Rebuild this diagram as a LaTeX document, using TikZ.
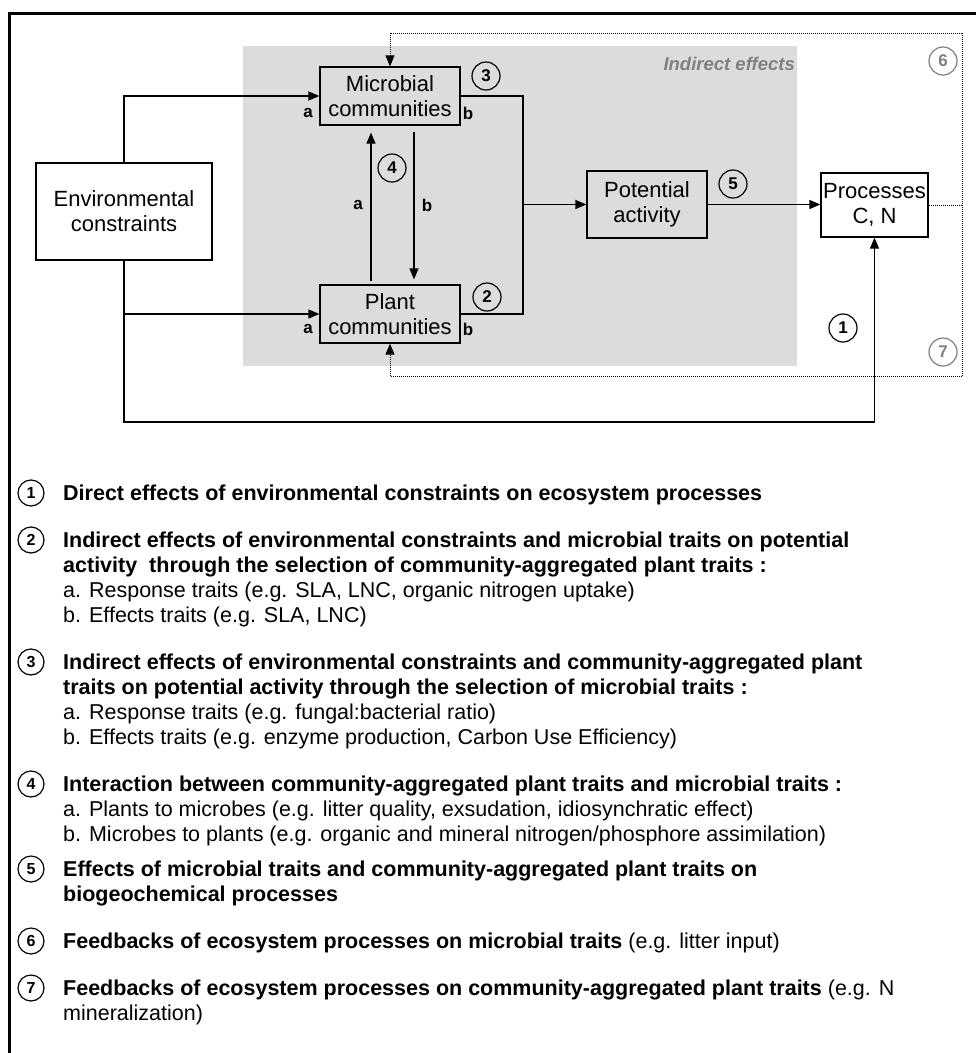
\documentclass[tikz,border=0pt]{standalone}
\usepackage{fontspec}
\setmainfont{Liberation Sans}
\usetikzlibrary{arrows.meta,calc}
\definecolor{bgshade}{HTML}{DCDCDC}
\definecolor{fbgray}{HTML}{808080}
\begin{document}
\begin{tikzpicture}[x=1pt,y=-1pt,
 box/.style={draw,line width=1.3pt,align=center,inner sep=0pt,font=\fontsize{22}{25}\selectfont},
 ln/.style={line width=1.3pt},
 arr/.style={line width=1.3pt,-{Triangle[length=11pt,width=9pt]}},
 dot/.style={line width=0.9pt,dash pattern=on 1pt off 1pt},
 dotarr/.style={dot,-{Triangle[length=11pt,width=9pt]}},
 num/.style={circle,draw,line width=1.2pt,inner sep=0pt,minimum size=28pt,font=\fontsize{17}{17}\selectfont\bfseries},
 gnum/.style={num,draw=fbgray,text=fbgray},
 lnum/.style={circle,draw,line width=1.2pt,inner sep=0pt,minimum size=26pt,font=\fontsize{16}{16}\selectfont\bfseries},
 lab/.style={font=\fontsize{17}{17}\selectfont\bfseries,inner sep=0pt},
 leg/.style={anchor=base west,inner sep=0pt,font=\fontsize{21.5}{25}\selectfont},
 legb/.style={leg,font=\fontsize{21.5}{25}\selectfont\bfseries},
]
\useasboundingbox (0,0) rectangle (976,1053);
\fill[white] (0,0) rectangle (976,1053);
\draw[line width=3pt] (976,13) -- (9,13) -- (9,1053);
\fill[bgshade] (243,46) rectangle (797,366);
\node[font=\fontsize{18.5}{18.5}\selectfont\bfseries\itshape,text=fbgray,anchor=east,inner sep=0pt] (ind) at (795,64) {Indirect effects};

% boxes
\node[box,fill=white,minimum width=176pt,minimum height=97pt] (env) at (124,211.5) {Environmental\\constraints};
\node[box,fill=bgshade,minimum width=140pt,minimum height=58pt] (mic) at (390,96) {Microbial\\communities};
\node[box,fill=bgshade,minimum width=140pt,minimum height=58pt] (pla) at (390,314) {Plant\\communities};
\node[box,fill=bgshade,minimum width=120pt,minimum height=67pt] (pot) at (647,204.5) {Potential\\activity};
\node[box,fill=white,minimum width=107pt,minimum height=64pt] (pro) at (874.5,205) {Processes\\C, N};

% coordinates
\coordinate (jn) at (523,204.5);
\coordinate (bot) at (124,422);
\coordinate (fbTR) at (962,33);
\coordinate (fbBR) at (962,376);

% connectors
\draw[arr] (env.north) |- (mic.west);
\draw[arr] (env.south) |- (pla.west);
\draw[arr] (env.south) -- (bot) -| (pro.south);
\draw[ln] (mic.east) -| (jn) |- (pla.east);
\draw[arr] (jn) -- (pot.west);
\draw[arr] (pot.east) -- (pro.west |- pot.east);
\draw[arr] ([xshift=-19pt,yshift=3pt]pla.north) -- ([xshift=-19pt,yshift=-7pt]mic.south);
\draw[arr] ([xshift=24pt,yshift=-6pt]mic.south) -- ([xshift=24pt,yshift=5pt]pla.north);

% feedback dotted
\draw[dot] (pro.east) -- (fbTR |- pro.east);
\draw[dot] (fbTR) -- (fbBR);
\draw[dotarr] (fbTR) -| (mic.north);
\draw[dotarr] (fbBR) -| (pla.south);

% labels
\node[lab] (ma) at (308,113) {a};
\node[lab] (mb) at (468,113) {b};
\node[lab] (pa) at (308,329) {a};
\node[lab] (pb) at (468,329) {b};
\node[lab] (ia) at (358,205) {a};
\node[lab] (ib) at (427,205) {b};

% numbers
\node[num] (c3) at (486,76) {3};
\node[num] (c2) at (487,297) {2};
\node[num] (c4) at (392,168) {4};
\node[num] (c5) at (733,184) {5};
\node[num] (c1) at (843,328) {1};
\node[gnum] (c6) at (943,61) {6};
\node[gnum] (c7) at (943,352) {7};

% legend
\node[lnum] (n1) at (31,493) {1};
\node[legb] (t1) at (63,500.5) {Direct effects of environmental constraints on ecosystem processes};

\node[lnum] (n2) at (31,540) {2};
\node[legb] (t2a) at (63,547.5) {Indirect effects of environmental constraints and microbial traits on potential};
\node[legb] (t2b) at (63,572.5) {activity\ \ through the selection of community-aggregated plant traits :};
\node[leg] (t2c) at (63,597.5) {a. Response traits (e.g. SLA, LNC, organic nitrogen uptake)};
\node[leg] (t2d) at (63,622.5) {b. Effects traits (e.g. SLA, LNC)};

\node[lnum] (n3) at (31,662) {3};
\node[legb] (t3a) at (63,669.5) {Indirect effects of environmental constraints and community-aggregated plant};
\node[legb] (t3b) at (63,694.5) {traits on potential activity through the selection of microbial traits :};
\node[leg] (t3c) at (63,719.5) {a. Response traits (e.g. fungal:bacterial ratio)};
\node[leg] (t3d) at (63,744.5) {b. Effects traits (e.g. enzyme production, Carbon Use Efficiency)};

\node[lnum] (n4) at (31,784) {4};
\node[legb] (t4a) at (63,791.5) {Interaction between community-aggregated plant traits and microbial traits :};
\node[leg] (t4b) at (63,816.5) {a. Plants to microbes (e.g. litter quality, exsudation, idiosynchratic effect)};
\node[leg] (t4c) at (63,841.5) {b. Microbes to plants (e.g. organic and mineral nitrogen/phosphore assimilation)};

\node[lnum] (n5) at (31,869) {5};
\node[legb] (t5a) at (63,876.5) {Effects of microbial traits and community-aggregated plant traits on};
\node[legb] (t5b) at (63,901.5) {biogeochemical processes};

\node[lnum] (n6) at (31,941) {6};
\node[leg] (t6) at (63,948.5) {\textbf{Feedbacks of ecosystem processes on microbial traits} (e.g. litter input)};

\node[lnum] (n7) at (31,988) {7};
\node[leg] (t7a) at (63,995.5) {\textbf{Feedbacks of ecosystem processes on community-aggregated plant traits} (e.g. N};
\node[leg] (t7b) at (63,1020.5) {mineralization)};
\end{tikzpicture}
\end{document}
